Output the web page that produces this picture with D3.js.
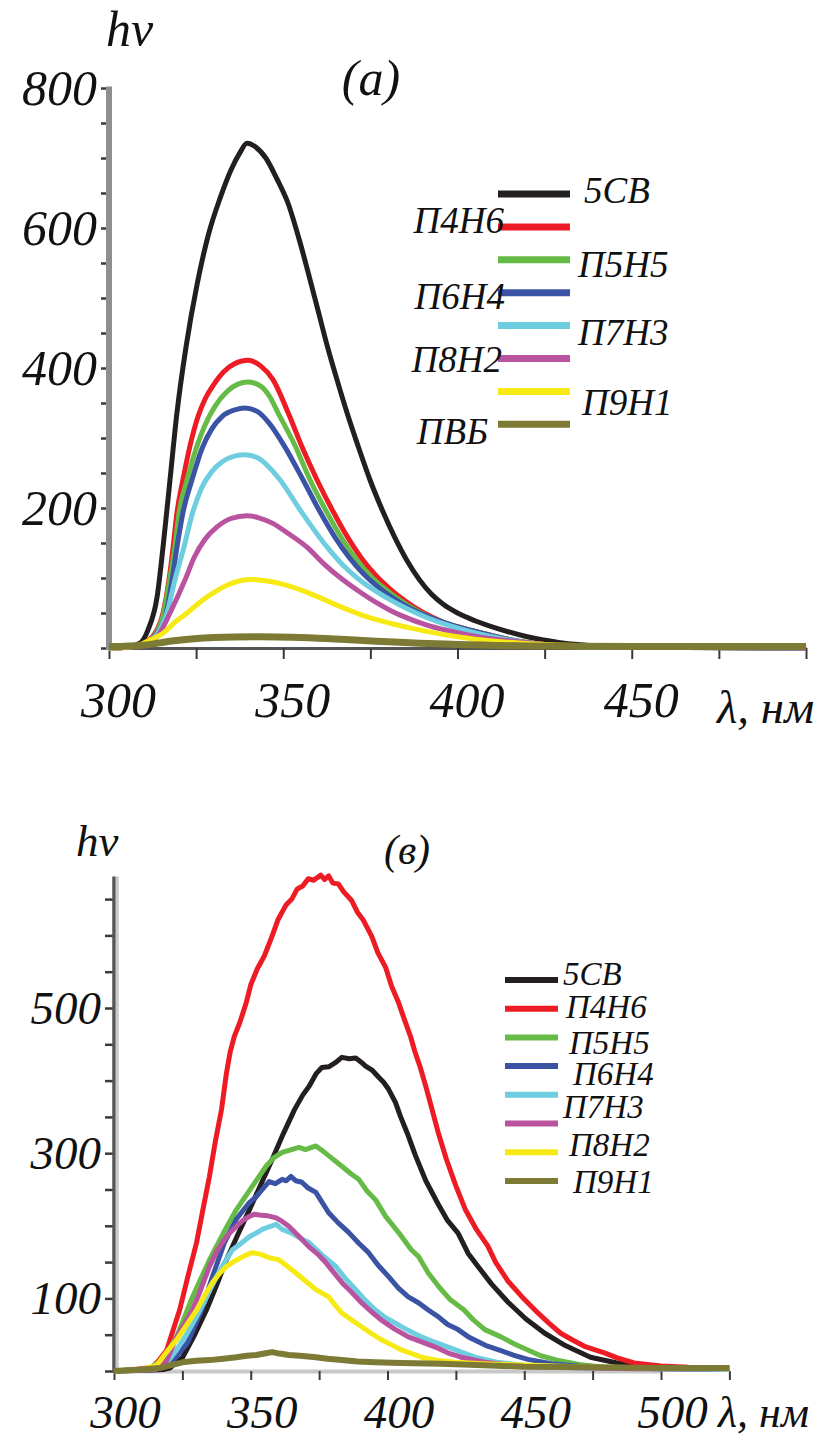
<!DOCTYPE html>
<html>
<head>
<meta charset="utf-8">
<script src="https://cdn.jsdelivr.net/npm/d3@7/dist/d3.min.js"></script>
<style>
  html, body { margin: 0; padding: 0; background: #fff; }
  svg text { font-family: "Liberation Serif", "DejaVu Serif", serif; font-style: italic; fill: #111; }
</style>
</head>
<body>
<svg id="chart" width="828" height="1436"></svg>
<script>
// ---------- Panel (а): emission spectra, 300–500 nm ----------
const topSeriesNames = ["5CB", "П4Н6", "П5Н5", "П6Н4", "П7Н3", "П8Н2", "П9Н1", "ПВБ"];
const seriesColors = ["#231f20", "#ed1c24", "#66bb46", "#3a53a4", "#6fcde0", "#b9529f", "#f7ea14", "#7d7a36"];

const top5CB = [[300,0],[305,1],[308.9,7],[311.2,26],[313.8,73],[315.5,144],[317.5,240],[319.5,336],[322.1,430],[325.3,520],[328.5,590],[331.9,643],[335,683],[337.5,707],[339.6,721],[342,716],[345,700],[348,672],[351.4,635],[354.5,585],[357.7,526],[360,482],[362.6,432],[365.5,382],[368.3,336],[371.5,288],[374.9,240],[378.5,196],[382,158],[385.5,125],[389,98],[392.5,77],[396,62],[400,50],[405,39],[412,27],[420,16],[429,8],[441,3],[460,1],[500,0]];
const topP4H6 = [[300,0],[305,1],[309.5,6],[313.2,21],[315.5,50],[317.2,97],[318.4,144],[319.5,193],[321.2,240],[323.3,290],[325.5,330],[327.5,355],[330,376],[333,395],[336,406],[339.9,411],[343.5,403],[347.1,383],[351.4,336],[355.4,287],[359.7,240],[364.3,195],[368.5,158],[372.5,128],[376.5,104],[380.5,85],[385,67],[390,51],[395,39],[401,29],[408,20],[416,11],[425,5],[441,1],[500,0]];
const topP5H5 = [[300,0],[305,1],[309.8,6],[313.5,21],[315.7,50],[317.4,97],[318.9,144],[320.1,193],[322.4,240],[325,285],[327.5,318],[330.5,346],[334,367],[337,377],[339.9,380],[343.5,374],[346,360],[348.5,336],[353.4,289],[357.7,240],[362.6,193],[367,155],[371,126],[375,103],[379,85],[383.5,68],[388.5,53],[394,40],[400,30],[407,21],[415,12],[425,5],[441,1],[500,0]];
const topP6H4 = [[300,0],[305,1],[310,6],[313.8,21],[316.4,50],[318.1,97],[319.5,144],[321.2,193],[323.8,240],[326.7,285],[329.5,313],[332.5,331],[336,340],[339,343],[342.5,338],[346,321],[350.5,287],[355.7,240],[360.5,195],[365,157],[369,129],[373,106],[377,88],[381,73],[386,58],[391,46],[397,35],[404,25],[412,15],[422,6],[441,1],[500,0]];
const topP7H3 = [[300,0],[305,1],[310,5],[314,21],[316.6,50],[318.9,97],[321.5,144],[323.8,190],[326.5,228],[329.5,252],[332.5,266],[336,274],[339,276],[342.5,272],[346,258],[349.1,240],[355.4,193],[362.6,144],[367,119],[371.5,99],[376,83],[381,68],[386,55],[391,44],[397,33],[404,23],[412,14],[422,6],[441,1],[500,0]];
const topP8H2 = [[300,0],[305,1],[310,4],[314.5,21],[317.5,50],[321.8,97],[324.5,130],[327.5,155],[331,173],[335,185],[339.6,189],[343,186],[347,178],[351,165],[356.8,144],[361.5,121],[367.2,97],[372,80],[377,64],[381,53],[385.5,43],[391,33],[397,25],[405,17],[415,10],[425,5],[441,2],[500,0]];
const topP9H1 = [[300,0],[305,1],[309,5],[312,12],[315.5,21],[318.5,35],[322.4,50],[326,65],[330,79],[334,90],[337.6,96],[341,98],[345,96],[350,91],[355,83],[360,73],[365,62],[370,52],[375,43],[381,35],[387,28],[393,22],[400,16],[410,10],[425,5],[440,3],[500,1]];
const topPVB = [[300,2],[310,4],[318,10],[330,15],[343,16],[360,14],[380,9],[400,5],[420,3],[450,2],[500,2]];
const topSeries = [top5CB, topP4H6, topP5H5, topP6H4, topP7H3, topP8H2, topP9H1, topPVB];

const topXTicks = [300, 325, 350, 375, 400, 425, 450, 475, 500];
const topXLabels = [300, 350, 400, 450];
const topYTicks = [0, 50, 100, 150, 200, 250, 300, 350, 400, 450, 500, 550, 600, 650, 700, 750, 800];
const topYLabels = [200, 400, 600, 800];

// ---------- Panel (в): emission spectra, 300–525 nm ----------
const botLegendNames = ["5CB", "П4Н6", "П5Н5", "П6Н4", "П7Н3", "П8Н2", "П9Н1"];

const bot5CB = [[300,0],[312,1],[318,2],[320.4,4],[325.1,19],[329.5,50],[333.8,84],[337.5,118],[341.1,153],[345.3,188],[349.5,222],[353.7,257],[357.8,291],[361.8,326],[366,360],[369,380],[371.3,392],[374,410],[376,418],[378.5,419],[381.1,425],[383.3,432],[386,430],[388.4,431],[390.5,425],[392,420],[394.5,414],[396.7,405],[398.5,398],[400.4,388],[402.9,370],[404.7,351],[407.5,325],[410.2,297],[414,262],[418.5,230],[422,207],[425.8,190],[429.5,162],[433.1,144],[438,120],[444,95],[450.5,72],[457.5,52],[465,35],[474.2,19],[484,11],[495,6],[510,3],[525,2]];
const botP4H6 = [[300,0],[308,2],[312,4],[314.2,6],[316.5,15],[319.3,29],[321.5,55],[324,84],[327,130],[330.2,177],[332.5,222],[334.9,268],[337,315],[339.3,360],[341.1,410],[342.5,440],[344,461],[346,480],[348.4,508],[350,532],[352.4,554],[355,572],[357.8,599],[360,622],[362.9,642],[365,650],[367,664],[369,668],[371,678],[373,676],[375.6,683],[377,677],[378.5,682],[380,672],[382,671],[384,660],[386.9,648],[389,632],[391,622],[394.2,599],[396.5,576],[399.3,556],[401.5,530],[404,508],[406,486],[408.4,461],[410,440],[412,418],[414,392],[415.6,370],[418.5,329],[421.5,292],[425,255],[428.5,222],[432.5,195],[436.7,172],[439.5,150],[444,124],[450.2,98],[455,80],[459,66],[463.3,52],[468,42],[472,34],[479.3,25],[484,18],[490.2,11],[500,7],[510,5],[525,4]];
const botP5H5 = [[300,0],[312,2],[317.8,15],[322.9,47],[328.7,102],[334.9,153],[340,190],[344.7,222],[350.5,254],[355.6,282],[358.5,294],[361.5,301],[364,304],[367.6,308],[370,305],[373.8,310],[376,304],[378,298],[383.3,282],[386.5,272],[389.5,264],[392.5,248],[395.6,236],[399.3,213],[404,191],[408.7,167],[411.3,158],[414.9,135],[419,115],[423,98],[428,84],[431.5,70],[435.6,57],[441.5,47],[446,38],[451.3,29],[456,21],[462,15],[470,9],[480,5],[500,3],[525,2]];
const botP6H4 = [[300,0],[315,3],[321.1,12],[326.9,39],[332,84],[336,130],[340.4,177],[344.7,209],[349.5,232],[352,240],[354.2,250],[356.7,261],[359,258],[361.5,264],[363,262],[364.7,268],[366.5,262],[368.7,260],[371,252],[373.8,246],[378.5,218],[382,204],[385.8,191],[389.5,176],[393.1,163],[396.5,146],[400.4,130],[404,114],[407.6,102],[411.3,94],[414.9,84],[418.5,75],[422,64],[425.8,57],[430,46],[436,35],[441.5,28],[446,22],[451.3,16],[460,10],[475,5],[500,3],[525,2]];
const botP7H3 = [[300,0],[315,2],[319,10],[322.9,29],[326.5,50],[330.2,75],[334,103],[337.5,130],[340.5,150],[343.3,167],[346.5,176],[349.5,185],[352,190],[354.2,195],[357,199],[359.3,202],[361.5,195],[365,190],[368,183],[371.3,177],[376,160],[381.1,144],[384.5,128],[388.4,112],[392,97],[395.6,84],[399,74],[402.9,66],[407.5,56],[412.4,47],[417,40],[422.2,33],[427,26],[432,19],[440,12],[450,8],[470,4],[500,3],[525,2]];
const botP8H2 = [[300,0],[315,2],[319,12],[322.9,47],[325.8,65],[328.7,84],[331.8,113],[334.9,144],[337.2,162],[339.6,177],[342,189],[344.7,199],[347,207],[349.5,213],[351.3,216],[353.1,215],[356,214],[359.3,211],[361.5,206],[364,199],[367.5,186],[371.3,171],[374.5,161],[377.5,149],[380.5,135],[383.3,122],[387,108],[390.5,94],[394,82],[397.8,70],[402.5,58],[407.6,47],[412.5,40],[417.5,33],[422,25],[426.9,19],[435.6,12],[445,8],[460,5],[490,3],[525,3]];
const botP9H1 = [[300,0],[310,2],[315.6,8],[319,25],[322.9,43],[326.5,63],[330.2,84],[333,103],[336,122],[338.5,134],[341.1,144],[344,151],[346.9,157],[348.5,160],[350.5,163],[353.5,161],[356.7,156],[360.4,153],[363.5,144],[366.5,135],[370,124],[373.8,112],[378.5,102],[381,90],[383.3,80],[387,70],[390.5,61],[394,52],[397.8,43],[401.5,36],[405.1,29],[412.4,19],[418,15],[424.7,12],[435,10],[444,9],[470,6],[500,4],[525,3]];
const botPVB = [[300,0],[310,2],[316.7,4],[321,8],[325,12],[330,14],[335,15],[340,17],[344.7,19],[348.5,21],[352,22],[355,24],[357.8,26],[360.5,24],[364,22],[368,21],[373.8,19],[378,17],[383.3,15],[389,13],[395.6,12],[405,11],[419.6,10],[435,8],[450,6],[475,5],[500,4],[525,4]];
const botSeries = [bot5CB, botP4H6, botP5H5, botP6H4, botP7H3, botP8H2, botP9H1, botPVB];

const botXTicks = [300, 325, 350, 375, 400, 425, 450, 475, 500, 525];
const botXLabels = [300, 350, 400, 450, 500];
const botYTicks = [0, 50, 100, 150, 200, 250, 300, 350, 400, 450, 500, 550, 600, 650];
const botYLabels = [100, 300, 500];

// ---------- drawing ----------
const svg = d3.select("#chart");

function drawPanel(cfg) {
  const g = svg.append("g");
  const x = cfg.x, y = cfg.y;
  const y0 = y(0), x0 = x(cfg.xDomain[0]);

  // x axis
  const xAxis = d3.axisBottom(x)
    .tickValues(cfg.xTicks)
    .tickSize(cfg.xTickSize)
    .tickSizeOuter(0)
    .tickFormat(d => cfg.xLabels.includes(d) ? d : "");
  const gx = g.append("g").attr("transform", `translate(0,${y0})`).call(xAxis);
  gx.select(".domain").attr("stroke", cfg.xAxisColor).attr("stroke-width", cfg.xAxisWidth);
  gx.selectAll(".tick line").attr("stroke", "#3a3a3a").attr("stroke-width", 2);
  gx.selectAll(".tick text")
    .attr("fill", "#111")
    .attr("font-size", cfg.tickFont)
    .attr("y", cfg.xLabelY).attr("dy", 0)
    .attr("x", cfg.xLabelDx);

  // y axis
  const yAxis = d3.axisLeft(y)
    .tickValues(cfg.yTicks)
    .tickSize(cfg.yTickSize)
    .tickSizeOuter(0)
    .tickFormat(d => cfg.yLabels.includes(d) ? d : "");
  const gy = g.append("g").attr("transform", `translate(${x0},0)`).call(yAxis);
  gy.select(".domain").remove();
  gy.selectAll(".tick line").attr("stroke", "#3a3a3a").attr("stroke-width", 2.5);
  gy.selectAll(".tick text")
    .attr("fill", "#111")
    .attr("font-size", cfg.tickFont)
    .attr("x", -cfg.yTickSize - 4);
  gy.append("line")
    .attr("x1", 0).attr("x2", 0)
    .attr("y1", y(cfg.yTop)).attr("y2", y0 + 2)
    .attr("stroke", cfg.yAxisColor).attr("stroke-width", cfg.yAxisWidth);
  if (cfg.yAxisShade) {
    gy.append("line")
      .attr("x1", cfg.yAxisWidth / 2 + 1.5).attr("x2", cfg.yAxisWidth / 2 + 1.5)
      .attr("y1", y(cfg.yTop)).attr("y2", y0)
      .attr("stroke", cfg.yAxisShade).attr("stroke-width", 3);
  }

  // spectra
  const line = d3.line()
    .x(d => x(d[0]))
    .y(d => y(d[1]))
    .curve(cfg.curve);
  g.append("g").selectAll("path")
    .data(cfg.series)
    .join("path")
    .attr("d", line)
    .attr("fill", "none")
    .attr("stroke", (d, i) => seriesColors[i])
    .attr("stroke-width", (d, i) => i === 7 ? cfg.lastWidth : cfg.lineWidth)
    .attr("stroke-linejoin", "round")
    .attr("stroke-linecap", "butt");

  // legend swatches
  g.append("g").selectAll("line")
    .data(cfg.series)
    .join("line")
    .attr("x1", cfg.legend.x1).attr("x2", cfg.legend.x2)
    .attr("y1", (d, i) => cfg.legend.y0 + i * cfg.legend.step)
    .attr("y2", (d, i) => cfg.legend.y0 + i * cfg.legend.step)
    .attr("stroke", (d, i) => seriesColors[i])
    .attr("stroke-width", cfg.legend.width);

  // legend labels
  g.append("g").selectAll("text")
    .data(cfg.legend.names)
    .join("text")
    .attr("x", (d, i) => cfg.legend.labelX[i])
    .attr("y", (d, i) => cfg.legend.labelY[i])
    .attr("text-anchor", (d, i) => cfg.legend.anchor[i])
    .attr("font-size", cfg.legend.font)
    .text(d => d);

  // titles
  g.append("text").attr("x", cfg.hv[0]).attr("y", cfg.hv[1]).attr("font-size", cfg.hv[2]).text("hν");
  g.append("text").attr("x", cfg.panel[0]).attr("y", cfg.panel[1]).attr("font-size", cfg.panel[2])
    .attr("text-anchor", "middle").text(cfg.panel[3]);
  g.append("text").attr("x", cfg.lambda[0]).attr("y", cfg.lambda[1]).attr("font-size", cfg.lambda[2])
    .text("λ, нм");
}

drawPanel({
  xDomain: [300, 500],
  x: d3.scaleLinear().domain([300, 500]).range([109, 806]),
  y: d3.scaleLinear().domain([0, 800]).range([648, 88]),
  xTicks: topXTicks, xLabels: topXLabels, xTickSize: 11,
  xLabelY: 69, xLabelDx: 9, xAxisColor: "#555", xAxisWidth: 3,
  yTicks: topYTicks, yLabels: topYLabels, yTickSize: 8, yTop: 802,
  yAxisColor: "#8f8f8f", yAxisWidth: 6, yAxisShade: null,
  tickFont: 50,
  series: topSeries, curve: d3.curveMonotoneX, lineWidth: 5, lastWidth: 7,
  legend: {
    x1: 498, x2: 570, y0: 194, step: 32.9, width: 7, font: 37,
    names: topSeriesNames,
    labelX: [584, 504, 578, 505, 578, 502, 582, 488],
    labelY: [203, 233, 277, 309, 345, 372, 415, 444],
    anchor: ["start", "end", "start", "end", "start", "end", "start", "end"]
  },
  hv: [106, 46, 50],
  panel: [371, 95, 50, "(а)"],
  lambda: [717, 723, 47]
});

drawPanel({
  xDomain: [300, 525],
  x: d3.scaleLinear().domain([300, 500]).range([114, 661]),
  y: d3.scaleLinear().domain([0, 500]).range([1371, 1008]),
  xTicks: botXTicks, xLabels: botXLabels, xTickSize: 9,
  xLabelY: 57, xLabelDx: 11, xAxisColor: "#c8c8c8", xAxisWidth: 4,
  yTicks: botYTicks, yLabels: botYLabels, yTickSize: 9, yTop: 681,
  yAxisColor: "#555", yAxisWidth: 3.5, yAxisShade: "#c9c9c9",
  tickFont: 47,
  series: botSeries, curve: d3.curveLinear, lineWidth: 5, lastWidth: 6,
  legend: {
    x1: 505, x2: 558, y0: 980, step: 28.7, width: 6, font: 33,
    names: botLegendNames,
    labelX: [563, 566, 569, 573, 563, 569, 573],
    labelY: [985, 1018, 1054, 1085, 1118, 1156, 1193],
    anchor: ["start", "start", "start", "start", "start", "start", "start"]
  },
  hv: [76, 856, 45],
  panel: [407, 864, 42, "(в)"],
  lambda: [718, 1427, 44]
});
</script>
</body>
</html>
